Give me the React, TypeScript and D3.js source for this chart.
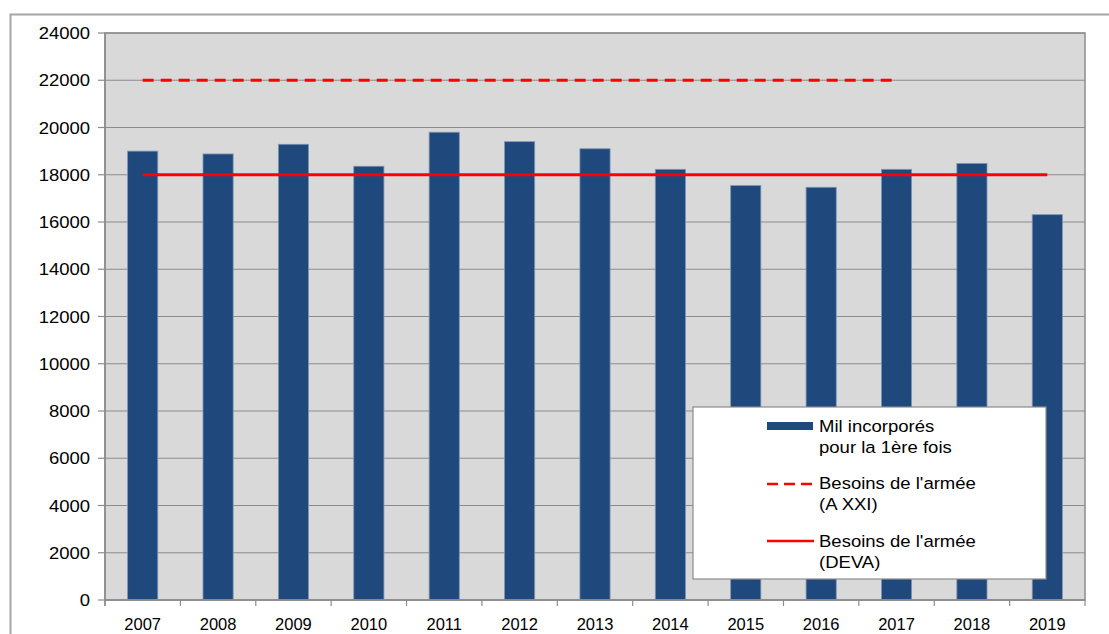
import React from "react";
import * as d3 from "d3";

const years = ["2007","2008","2009","2010","2011","2012","2013","2014","2015","2016","2017","2018","2019"];
const incorpores = [19000,18880,19290,18360,19800,19400,19100,18230,17540,17470,18230,18480,16310];
const besoinsAXXI = [22000,22000,22000,22000,22000,22000,22000,22000,22000,22000,22000];
const besoinsDEVA = [18000,18000,18000,18000,18000,18000,18000,18000,18000,18000,18000,18000,18000];
const yTicks = [0,2000,4000,6000,8000,10000,12000,14000,16000,18000,20000,22000,24000];
const legendLabels = [
  ["Mil incorporés", "pour la 1ère fois"],
  ["Besoins de l'armée", "(A XXI)"],
  ["Besoins de l'armée", "(DEVA)"],
];

const W = 1109, H = 634;
const L = 105, R = 1085, T = 33, B = 600;
const FONT = "'Liberation Sans', Arial, sans-serif";

export default function App() {
  const x = d3.scaleBand<string>().domain(years).range([L, R]).paddingInner(0.6).paddingOuter(0.3);
  const xc = (i: number) => (x(years[i]) as number) + x.bandwidth() / 2;
  const y = d3.scaleLinear().domain([0, 24000]).range([B, T]);
  const step = (R - L) / years.length;
  const line = d3.line<number>().x((_, i) => xc(i)).y(d => y(d));

  const lx = 693, ly = 407, lw = 353, lh = 172;

  return (
    <div style={{ position: "absolute", left: 0, top: 0 }}>
      <svg width={W} height={H} style={{ display: "block" }}>
        <rect x={0} y={0} width={W} height={H} fill="#fff" />
        <path d={`M10.5,${H} V14.5 H${W}`} fill="none" stroke="#a6a6a6" strokeWidth={2} />
        <rect x={L} y={T} width={R - L} height={B - T} fill="#d9d9d9" />
        {yTicks.map(t => (
          <line key={t} x1={L} x2={R} y1={y(t)} y2={y(t)} stroke="#8c8c8c" strokeWidth={1.2} />
        ))}
        {incorpores.map((v, i) => (
          <rect key={i} x={x(years[i])} y={y(v)} width={x.bandwidth()} height={B - y(v)}
            fill="#1f497d" stroke="#7f94b3" strokeWidth={0.8} />
        ))}
        <rect x={L} y={T} width={R - L} height={B - T} fill="none" stroke="#8c8c8c" strokeWidth={1.5} />
        <path d={line(besoinsAXXI) as string} fill="none" stroke="#ff0000" strokeWidth={3} strokeDasharray="11,7" />
        <path d={line(besoinsDEVA) as string} fill="none" stroke="#ff0000" strokeWidth={2.8} />
        {/* y axis */}
        <line x1={L} x2={L} y1={T} y2={B + 6} stroke="#8c8c8c" strokeWidth={1.5} />
        {yTicks.map(t => (
          <g key={t}>
            <line x1={L - 7} x2={L} y1={y(t)} y2={y(t)} stroke="#8c8c8c" strokeWidth={1.2} />
            <text transform={`translate(90,${y(t) + 6}) scale(1.12,1)`} textAnchor="end"
              fontFamily={FONT} fontSize={16.5} fill="#000">{t}</text>
          </g>
        ))}
        {/* x axis */}
        <line x1={L} x2={R} y1={B} y2={B} stroke="#8c8c8c" strokeWidth={1.5} />
        {d3.range(years.length + 1).map(i => (
          <line key={i} x1={L + i * step} x2={L + i * step} y1={B} y2={B + 6} stroke="#8c8c8c" strokeWidth={1.2} />
        ))}
        {years.map((yr, i) => (
          <text key={yr} x={xc(i)} y={630} textAnchor="middle" fontFamily={FONT} fontSize={16.5} fill="#000">{yr}</text>
        ))}
        {/* legend */}
        <rect x={lx} y={ly} width={lw} height={lh} fill="#fff" stroke="#8c8c8c" strokeWidth={1.2} />
        <rect x={767} y={422} width={46} height={8} fill="#1f497d" />
        <line x1={767} x2={814} y1={484} y2={484} stroke="#ff0000" strokeWidth={2.5} strokeDasharray="11,6" />
        <line x1={767} x2={814} y1={541} y2={541} stroke="#ff0000" strokeWidth={2.5} />
        {legendLabels.map((lines, k) => (
          <g key={k}>
            {lines.map((s, j) => (
              <text key={j} transform={`translate(819,${[432, 489, 547][k] + j * 21}) scale(1.09,1)`}
                fontFamily={FONT} fontSize={17} fill="#000">{s}</text>
            ))}
          </g>
        ))}
      </svg>
    </div>
  );
}
